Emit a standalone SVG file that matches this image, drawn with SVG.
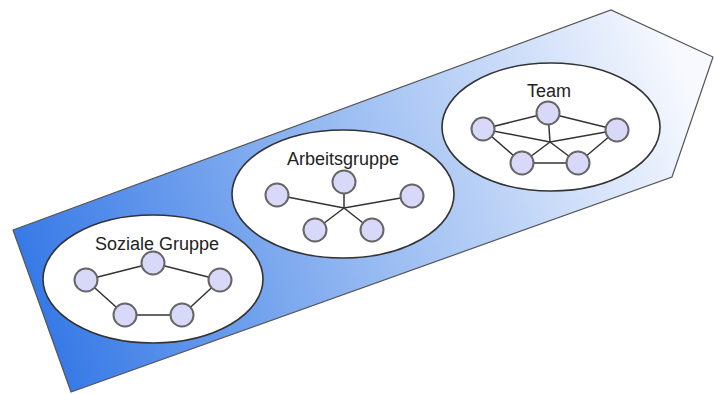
<svg xmlns="http://www.w3.org/2000/svg" width="714" height="394" viewBox="0 0 714 394">
<defs>
<linearGradient id="bg" gradientUnits="userSpaceOnUse" x1="30" y1="320" x2="690" y2="90">
<stop offset="0" stop-color="#3377e6"/>
<stop offset="0.45" stop-color="#8fb5f1"/>
<stop offset="1" stop-color="#f7f9fe"/>
</linearGradient>
<style>
.grp{fill:#ffffff;stroke:#333333;stroke-width:1.6}
.nd{fill:#d8d8f8;stroke:#666666;stroke-width:2}
.ed{stroke:#333333;stroke-width:1.5;fill:none}
.lbl{font-family:"Liberation Sans",Arial,sans-serif;font-size:18px;fill:#222222;text-anchor:middle}
</style>
</defs>
<rect width="714" height="394" fill="#ffffff"/>
<polygon points="13,230 611,10 713,57 672,177 71,392" fill="url(#bg)" stroke="#555555" stroke-width="1.2"/>

<g id="soziale-gruppe">
<ellipse class="grp" cx="153" cy="279" rx="110" ry="64"/>
<text class="lbl" x="157" y="250">Soziale Gruppe</text>
<g class="ed">
<line x1="86" y1="280" x2="153" y2="263"/>
<line x1="153" y1="263" x2="220" y2="280"/>
<line x1="220" y1="280" x2="182" y2="315"/>
<line x1="182" y1="315" x2="125" y2="315"/>
<line x1="125" y1="315" x2="86" y2="280"/>
</g>
<circle class="nd" cx="86" cy="280" r="11.5"/>
<circle class="nd" cx="153" cy="263" r="11.5"/>
<circle class="nd" cx="220" cy="280" r="11.5"/>
<circle class="nd" cx="125" cy="315" r="11.5"/>
<circle class="nd" cx="182" cy="315" r="11.5"/>
</g>

<g id="arbeitsgruppe">
<ellipse class="grp" cx="343" cy="194" rx="111" ry="64"/>
<text class="lbl" x="343" y="165">Arbeitsgruppe</text>
<g class="ed">
<line x1="344" y1="182" x2="344" y2="208"/>
<line x1="277" y1="195" x2="344" y2="208"/>
<line x1="412" y1="196" x2="344" y2="208"/>
<line x1="315" y1="230" x2="344" y2="208"/>
<line x1="372" y1="230" x2="344" y2="208"/>
</g>
<circle class="nd" cx="344" cy="182" r="11.5"/>
<circle class="nd" cx="277" cy="195" r="11.5"/>
<circle class="nd" cx="412" cy="196" r="11.5"/>
<circle class="nd" cx="315" cy="230" r="11.5"/>
<circle class="nd" cx="372" cy="230" r="11.5"/>
</g>

<g id="team">
<ellipse class="grp" cx="551" cy="127" rx="109" ry="64"/>
<text class="lbl" x="549" y="97">Team</text>
<g class="ed">
<line x1="548" y1="113" x2="483" y2="129"/>
<line x1="548" y1="113" x2="617" y2="130"/>
<line x1="483" y1="129" x2="522" y2="163"/>
<line x1="522" y1="163" x2="578" y2="163"/>
<line x1="578" y1="163" x2="617" y2="130"/>
<line x1="548" y1="113" x2="550" y2="142"/>
<line x1="483" y1="129" x2="550" y2="142"/>
<line x1="617" y1="130" x2="550" y2="142"/>
<line x1="522" y1="163" x2="550" y2="142"/>
<line x1="578" y1="163" x2="550" y2="142"/>
</g>
<circle class="nd" cx="548" cy="113" r="11.5"/>
<circle class="nd" cx="483" cy="129" r="11.5"/>
<circle class="nd" cx="617" cy="130" r="11.5"/>
<circle class="nd" cx="522" cy="163" r="11.5"/>
<circle class="nd" cx="578" cy="163" r="11.5"/>
</g>
</svg>
